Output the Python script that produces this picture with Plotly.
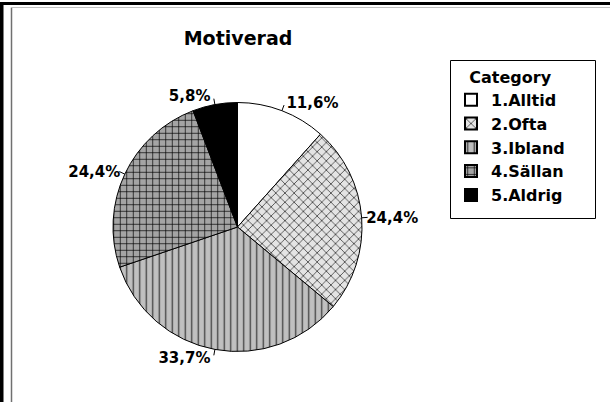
import math
import plotly.graph_objects as go

categories = ["1.Alltid", "2.Ofta", "3.Ibland", "4.Sällan", "5.Aldrig"]
values = [11.6, 24.4, 33.7, 24.4, 5.8]
fill_colors = ["#ffffff", "#e4e4e4", "#c0c0c0", "#a4a4a4", "#000000"]
pattern_shapes = ["", "x", "|", "+", ""]
pattern_fg = ["#000000", "#202020", "#404040", "#000000", "#000000"]

labels_text = [f"{v:.1f}".replace(".", ",") + "%" for v in values]

W, H = 610, 402
cx, cy, R = 237.5, 227.0, 124.5

fig = go.Figure(go.Pie(
    labels=categories,
    values=values,
    text=labels_text,
    texttemplate="%{text}",
    textposition="outside",
    textfont=dict(family="DejaVu Sans", size=15, color="black", weight="bold"),
    sort=False,
    direction="clockwise",
    rotation=0,
    marker=dict(
        colors=fill_colors,
        line=dict(color="black", width=1),
        pattern=dict(shape=pattern_shapes, fgcolor=pattern_fg, bgcolor=fill_colors,
                     fillmode="replace", size=6.5, solidity=0.2),
    ),
    domain=dict(x=[(cx - R) / W, (cx + R) / W], y=[1 - (cy + R) / H, 1 - (cy - R) / H]),
    showlegend=True,
    hoverinfo="label+percent",
))

shapes = []
# frame
shapes.append(dict(type="rect", xref="paper", yref="paper", x0=0, x1=1, y0=1 - 5 / H, y1=1 - 2 / H,
                   fillcolor="black", line=dict(width=0)))
shapes.append(dict(type="rect", xref="paper", yref="paper", x0=0, x1=3.5 / W, y0=0, y1=1 - 2 / H,
                   fillcolor="black", line=dict(width=0)))
shapes.append(dict(type="line", xref="paper", yref="paper", x0=11.5 / W, x1=11.5 / W, y0=0, y1=1 - 7.5 / H,
                   line=dict(color="#707070", width=1.5)))
shapes.append(dict(type="line", xref="paper", yref="paper", x0=11.5 / W, x1=1, y0=1 - 7.5 / H, y1=1 - 7.5 / H,
                   line=dict(color="#c0c0c0", width=1)))
# legend box
shapes.append(dict(type="rect", xref="paper", yref="paper", x0=450.5 / W, x1=595.5 / W,
                   y0=1 - 218.5 / H, y1=1 - 60.5 / H, line=dict(color="black", width=1),
                   fillcolor="rgba(0,0,0,0)", layer="below"))

# small leader ticks at slice mid-angles
total = sum(values)
cum = 0.0
for v in values:
    mid = (cum + v / 2) / total * 2 * math.pi
    cum += v
    x0 = cx + R * math.sin(mid)
    y0 = cy - R * math.cos(mid)
    x1 = cx + (R + 6) * math.sin(mid)
    y1 = cy - (R + 6) * math.cos(mid)
    shapes.append(dict(type="line", xref="paper", yref="paper",
                       x0=x0 / W, x1=x1 / W, y0=1 - y0 / H, y1=1 - y1 / H,
                       line=dict(color="black", width=1)))

fig.update_layout(
    width=W, height=H,
    margin=dict(l=0, r=0, t=0, b=0),
    paper_bgcolor="white",
    plot_bgcolor="white",
    font=dict(family="DejaVu Sans", size=12, color="black"),
    title=dict(text="Motiverad", x=238 / W, xanchor="center", y=1 - 38 / H, yanchor="middle",
               font=dict(family="DejaVu Sans", size=19, color="black", weight="bold")),
    legend=dict(
        title=dict(text="Category", font=dict(size=16, weight="bold"), side="top center"),
        x=451 / W, xanchor="left", y=1 - 62 / H, yanchor="top",
        borderwidth=0, bgcolor="rgba(0,0,0,0)",
        font=dict(family="DejaVu Sans", size=16, color="black", weight="bold"),
        itemsizing="constant",
        tracegroupgap=0,
    ),
    shapes=shapes,
)

fig.write_html("out.html", post_script="document.body.style.margin='0px';",
               config={"displayModeBar": False})
